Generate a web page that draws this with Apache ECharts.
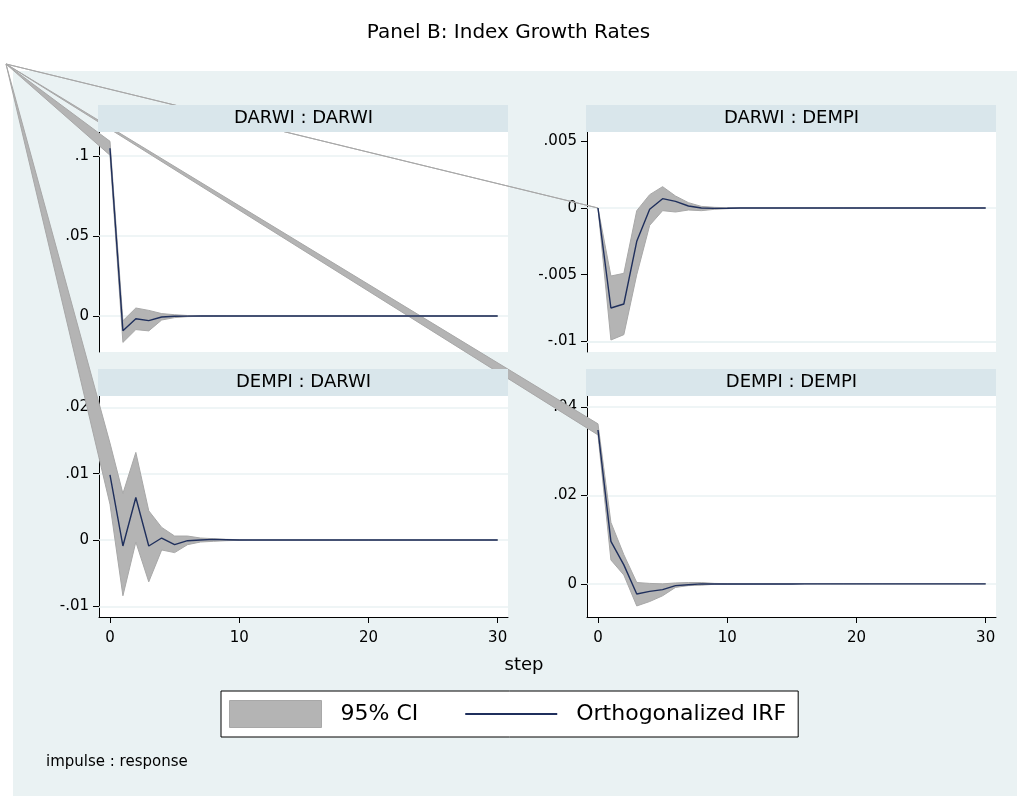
<!DOCTYPE html>
<html>
<head>
<meta charset="utf-8">
<script src="https://cdn.jsdelivr.net/npm/echarts@6/dist/echarts.min.js"></script>
<style>
html,body{margin:0;padding:0;background:#fff;}
#chart{width:1017px;height:796px;}
</style>
</head>
<body>
<div id="chart"></div>
<script>
// ---- data ----
const steps = [0,1,2,3,4,5,6,7,8,9,10,11,12,13,14,15,16,17,18,19,20,21,22,23,24,25,26,27,28,29,30];
const panelTitles = ["DARWI : DARWI", "DARWI : DEMPI", "DEMPI : DARWI", "DEMPI : DEMPI"];
const xTicks = [0, 10, 20, 30];

// DARWI : DARWI
const irf1 = [0.1048,-0.0092,-0.0017,-0.0029,-0.0006,-0.0002,-0.0001,0,0,0,0,0,0,0,0,0,0,0,0,0,0,0,0,0,0,0,0,0,0,0,0];
const lo1  = [0.1005,-0.0165,-0.0085,-0.0093,-0.0025,-0.0010,-0.0004,-0.0002,-0.0001,0,0,0,0,0,0,0,0,0,0,0,0,0,0,0,0,0,0,0,0,0,0];
const hi1  = [0.1092,-0.0030,0.0050,0.0035,0.0015,0.0008,0.0003,0.0001,0.0001,0,0,0,0,0,0,0,0,0,0,0,0,0,0,0,0,0,0,0,0,0,0];
const yTicks1 = [0, 0.05, 0.1];

// DARWI : DEMPI
const irf2 = [0,-0.0075,-0.0072,-0.0025,-0.0001,0.0007,0.0005,0.00015,0,-0.00003,-0.00002,0,0,0,0,0,0,0,0,0,0,0,0,0,0,0,0,0,0,0,0];
const lo2  = [0,-0.0099,-0.0095,-0.0050,-0.0013,-0.0002,-0.0003,-0.00015,-0.0002,-0.0001,-0.00005,0,0,0,0,0,0,0,0,0,0,0,0,0,0,0,0,0,0,0,0];
const hi2  = [0,-0.0051,-0.0049,-0.0002,0.0010,0.0016,0.0009,0.0004,0.00012,0.00005,0.00002,0,0,0,0,0,0,0,0,0,0,0,0,0,0,0,0,0,0,0,0];
const yTicks2 = [-0.01, -0.005, 0, 0.005];

// DEMPI : DARWI
const irf3 = [0.0098,-0.0009,0.0064,-0.0009,0.0003,-0.0007,-0.0001,0,0.0001,0.00005,0,0,0,0,0,0,0,0,0,0,0,0,0,0,0,0,0,0,0,0,0];
const lo3  = [0.0054,-0.0084,-0.0003,-0.0063,-0.0015,-0.0019,-0.0007,-0.0003,-0.0002,-0.0001,-0.00005,0,0,0,0,0,0,0,0,0,0,0,0,0,0,0,0,0,0,0,0];
const hi3  = [0.0146,0.0070,0.0132,0.0044,0.0019,0.0006,0.0006,0.0003,0.0002,0.0001,0.00005,0,0,0,0,0,0,0,0,0,0,0,0,0,0,0,0,0,0,0,0];
const yTicks3 = [-0.01, 0, 0.01, 0.02];

// DEMPI : DEMPI
const irf4 = [0.0348,0.0096,0.0043,-0.0023,-0.0017,-0.0013,-0.0004,-0.0002,0,-0.00002,-0.00005,-0.00005,-0.00005,-0.00004,-0.00003,-0.00002,0,0,0,0,0,0,0,0,0,0,0,0,0,0,0];
const lo4  = [0.0337,0.0054,0.0020,-0.0050,-0.0040,-0.0027,-0.0008,-0.0004,-0.0003,-0.0001,-0.0001,-0.00007,-0.00006,-0.00005,-0.00004,-0.00002,0,0,0,0,0,0,0,0,0,0,0,0,0,0,0];
const hi4  = [0.0362,0.0139,0.0066,0.0003,0.0001,0.0000,0.0002,0.0003,0.0003,0.0001,0.00004,0,0,0,0,0,0,0,0,0,0,0,0,0,0,0,0,0,0,0,0];
const yTicks4 = [0, 0.02, 0.04];

// ---- layout / style ----
const FONT = 'DejaVu Sans';
const CI_COLOR = '#b4b4b4';
const IRF_COLOR = '#1f2f5c';
const BG = '#eaf2f3';
const STRIP = '#d9e6eb';
const CORNER = [6, 64];   // stray polygon origin (as in the source rendering)

const panels = [
  {irf: irf1, lo: lo1, hi: hi1, ticks: yTicks1, min: -0.0225, max: 0.115, grid: {left: 99, top: 132, width: 409, height: 220}, showX: false},
  {irf: irf2, lo: lo2, hi: hi2, ticks: yTicks2, min: -0.0108, max: 0.0057, grid: {left: 587, top: 132, width: 409, height: 220}, showX: false},
  {irf: irf3, lo: lo3, hi: hi3, ticks: yTicks3, min: -0.0116, max: 0.0217, grid: {left: 99, top: 396, width: 409, height: 221}, showX: true},
  {irf: irf4, lo: lo4, hi: hi4, ticks: yTicks4, min: -0.0075, max: 0.0425, grid: {left: 587, top: 396, width: 409, height: 221}, showX: true}
];

function fmt(v) {
  if (Math.abs(v) < 1e-12) return '0';
  let s = String(+v.toFixed(6));
  return s.replace('0.', '.');
}

const grids = [], xAxes = [], yAxes = [], series = [], graphics = [];

graphics.push({type: 'rect', z: -100, shape: {x: 13, y: 71, width: 1004, height: 725}, style: {fill: BG}, silent: true});

panels.forEach((p, i) => {
  grids.push(Object.assign({show: true, backgroundColor: '#fff', borderWidth: 0}, p.grid));
  xAxes.push({
    type: 'value', gridIndex: i, min: -0.85, max: 30.8,
    axisLine: {show: p.showX, onZero: false, lineStyle: {color: '#000', width: 1}},
    axisTick: {show: p.showX, length: 6, customValues: xTicks, lineStyle: {color: '#000'}},
    axisLabel: {show: p.showX, customValues: xTicks, margin: 14, fontSize: 15, fontFamily: FONT, color: '#000'},
    splitLine: {show: false}
  });
  yAxes.push({
    type: 'value', gridIndex: i, min: p.min, max: p.max,
    axisLine: {show: true, onZero: false, lineStyle: {color: '#000', width: 1}},
    axisTick: {show: true, length: 6, customValues: p.ticks, lineStyle: {color: '#000'}},
    axisLabel: {customValues: p.ticks, margin: 10, fontSize: 15, fontFamily: FONT, color: '#000', formatter: fmt},
    splitLine: {show: false}
  });
  // gridlines
  series.push({
    type: 'line', xAxisIndex: i, yAxisIndex: i, data: [], z: 1, silent: true,
    markLine: {silent: true, z: 1, symbol: 'none', label: {show: false},
      lineStyle: {color: BG, width: 1.5, type: 'solid'},
      data: p.ticks.map(t => ({yAxis: t}))}
  });
  // confidence band
  series.push({
    type: 'custom', name: '95% CI', xAxisIndex: i, yAxisIndex: i, data: [0], z: 2, clip: false,
    itemStyle: {color: CI_COLOR},
    renderItem: function (params, api) {
      const pts = [CORNER];
      for (let k = 0; k < steps.length; k++) pts.push(api.coord([steps[k], p.hi[k]]));
      for (let k = steps.length - 1; k >= 0; k--) pts.push(api.coord([steps[k], p.lo[k]]));
      return {type: 'polygon', shape: {points: pts}, style: {fill: CI_COLOR, stroke: '#a8a8a8', lineWidth: 1}};
    }
  });
  // IRF line
  series.push({
    type: 'line', name: 'Orthogonalized IRF', xAxisIndex: i, yAxisIndex: i, z: 3,
    data: steps.map((s, k) => [s, p.irf[k]]),
    symbol: 'none', lineStyle: {color: IRF_COLOR, width: 1.4}, itemStyle: {color: IRF_COLOR}
  });
  // header strip
  graphics.push({
    type: 'rect', z: 10, silent: true,
    shape: {x: p.grid.left - 1, y: p.grid.top - 27, width: p.grid.width + 1, height: 27},
    style: {fill: STRIP}
  });
  graphics.push({
    type: 'text', z: 11, silent: true,
    x: p.grid.left + p.grid.width / 2, y: p.grid.top - 13.5,
    style: {text: panelTitles[i], fill: '#000', font: '18px "' + FONT + '"', align: 'center', verticalAlign: 'middle'}
  });
});

graphics.push({type: 'text', z: 11, silent: true, x: 524, y: 665,
  style: {text: 'step', fill: '#000', font: '18px "' + FONT + '"', align: 'center', verticalAlign: 'middle'}});
graphics.push({type: 'text', z: 11, silent: true, x: 46, y: 762,
  style: {text: 'impulse : response', fill: '#000', font: '15px "' + FONT + '"', align: 'left', verticalAlign: 'middle'}});

const chart = echarts.init(document.getElementById('chart'), null, {renderer: 'canvas'});
chart.setOption({
  animation: false,
  backgroundColor: '#fff',
  title: {text: 'Panel B: Index Growth Rates', left: 'center', top: 18,
    textStyle: {fontSize: 20, fontWeight: 'normal', color: '#000', fontFamily: FONT}},
  legend: {
    data: [
      {name: '95% CI', icon: 'rect', itemStyle: {color: CI_COLOR, borderColor: '#a8a8a8', borderWidth: 1}},
      {name: 'Orthogonalized IRF', itemStyle: {opacity: 0}, lineStyle: {color: IRF_COLOR, width: 2}}
    ],
    left: 221, top: 691, orient: 'horizontal',
    padding: [9, 12, 9, 8], itemGap: 46, itemWidth: 92, itemHeight: 27,
    backgroundColor: '#fff', borderColor: '#000', borderWidth: 1,
    selectedMode: false,
    textStyle: {fontSize: 22, fontFamily: FONT, color: '#000', padding: [0, 0, 0, 14]}
  },
  grid: grids, xAxis: xAxes, yAxis: yAxes, series: series, graphic: graphics
});
</script>
</body>
</html>
